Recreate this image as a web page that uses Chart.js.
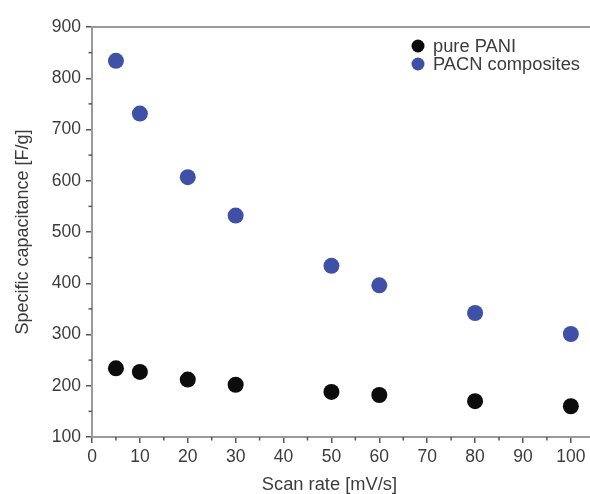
<!DOCTYPE html>
<html>
<head>
<meta charset="utf-8">
<script src="https://cdn.jsdelivr.net/npm/chart.js@4/dist/chart.umd.min.js"></script>
<style>
  html, body { margin: 0; padding: 0; background: #ffffff; }
  #wrap { width: 590px; height: 494px; }
</style>
</head>
<body>
<div id="wrap"><canvas id="c" width="590" height="494"></canvas></div>
<script>
// Scan rate (mV/s) and specific capacitance (F/g)
const scanRates = [5, 10, 20, 30, 50, 60, 80, 100];
const pureCap   = [234, 227, 212, 202, 188, 182, 170, 160];
const pacnCap   = [834, 731, 607, 532, 434, 396, 342, 301];

const seriesNames = ['pure PANI', 'PACN composites'];
const xTicks = [0, 10, 20, 30, 40, 50, 60, 70, 80, 90, 100];
const yTicks = [100, 200, 300, 400, 500, 600, 700, 800, 900];
const xTitle = 'Scan rate [mV/s]';
const yTitle = 'Specific capacitance [F/g]';

const AXIS = '#9a9a9a';
const TICK = '#555555';
const TEXT = '#3c3c3c';
const FONT = 'Liberation Sans, Arial, Helvetica, sans-serif';

// minor ticks, frame top line, x-axis title and in-plot legend
const decor = {
  id: 'decor',
  afterDraw(chart) {
    const { ctx, chartArea: a, scales: { x, y } } = chart;
    ctx.save();
    ctx.strokeStyle = TICK;
    ctx.lineWidth = 1.5;
    for (let i = 0; i < xTicks.length - 1; i++) {
      const px = x.getPixelForValue((xTicks[i] + xTicks[i + 1]) / 2);
      ctx.beginPath(); ctx.moveTo(px, a.bottom); ctx.lineTo(px, a.bottom + 3.5); ctx.stroke();
    }
    for (let i = 0; i < yTicks.length - 1; i++) {
      const py = y.getPixelForValue((yTicks[i] + yTicks[i + 1]) / 2);
      ctx.beginPath(); ctx.moveTo(a.left, py); ctx.lineTo(a.left - 3.5, py); ctx.stroke();
    }
    // top frame line
    ctx.strokeStyle = AXIS;
    ctx.lineWidth = 2;
    ctx.beginPath(); ctx.moveTo(a.left - 1, a.top); ctx.lineTo(a.right, a.top); ctx.stroke();

    // x-axis title, centred under the labelled tick range
    ctx.fillStyle = TEXT;
    ctx.font = '18.3px ' + FONT;
    ctx.textAlign = 'center';
    ctx.textBaseline = 'middle';
    const mid = (xTicks[0] + xTicks[xTicks.length - 1]) / 2;
    ctx.fillText(xTitle, x.getPixelForValue(mid) - 2, 485);

    // legend
    ctx.textAlign = 'left';
    chart.data.datasets.forEach((ds, i) => {
      const ly = 46 + i * 18;
      ctx.fillStyle = ds.backgroundColor;
      ctx.beginPath(); ctx.arc(418, ly, 6.5, 0, Math.PI * 2); ctx.fill();
      ctx.fillStyle = TEXT;
      ctx.fillText(ds.label, 433, ly + 1);
    });
    ctx.restore();
  }
};

new Chart(document.getElementById('c'), {
  type: 'scatter',
  data: {
    datasets: [
      {
        label: seriesNames[0],
        data: scanRates.map((v, i) => ({ x: v, y: pureCap[i] })),
        backgroundColor: '#0c0c0c',
        borderWidth: 0,
        pointRadius: 8,
        pointHoverRadius: 8
      },
      {
        label: seriesNames[1],
        data: scanRates.map((v, i) => ({ x: v, y: pacnCap[i] })),
        backgroundColor: '#3f51a6',
        borderWidth: 0,
        pointRadius: 8,
        pointHoverRadius: 8
      }
    ]
  },
  options: {
    responsive: false,
    animation: false,
    events: [],
    layout: { autoPadding: false, padding: { top: 27, right: 0, left: 0, bottom: 0 } },
    plugins: { legend: { display: false }, tooltip: { enabled: false } },
    scales: {
      x: {
        type: 'linear',
        min: 0,
        max: 104,
        afterBuildTicks: s => { s.ticks = xTicks.map(v => ({ value: v })); },
        afterFit: s => { s.height = 57; s.paddingRight = 0; s.paddingLeft = 0; },
        grid: { display: true, drawOnChartArea: false, drawTicks: true, tickLength: 6, color: TICK, lineWidth: 1.5 },
        border: { display: true, color: AXIS, width: 2 },
        ticks: { color: TEXT, font: { family: FONT, size: 17.5 }, padding: 4, maxRotation: 0, autoSkip: false },
        title: { display: false }
      },
      y: {
        type: 'linear',
        min: 100,
        max: 900,
        afterBuildTicks: s => { s.ticks = yTicks.map(v => ({ value: v })); },
        afterFit: s => { s.width = 92; },
        grid: { display: true, drawOnChartArea: false, drawTicks: true, tickLength: 6, color: TICK, lineWidth: 1.5 },
        border: { display: true, color: AXIS, width: 2 },
        ticks: { color: TEXT, font: { family: FONT, size: 17.5 }, padding: 5, autoSkip: false },
        title: { display: true, text: yTitle, color: TEXT, font: { family: FONT, size: 18 }, padding: { top: 12, bottom: 0 } }
      }
    }
  },
  plugins: [decor]
});
</script>
</body>
</html>
